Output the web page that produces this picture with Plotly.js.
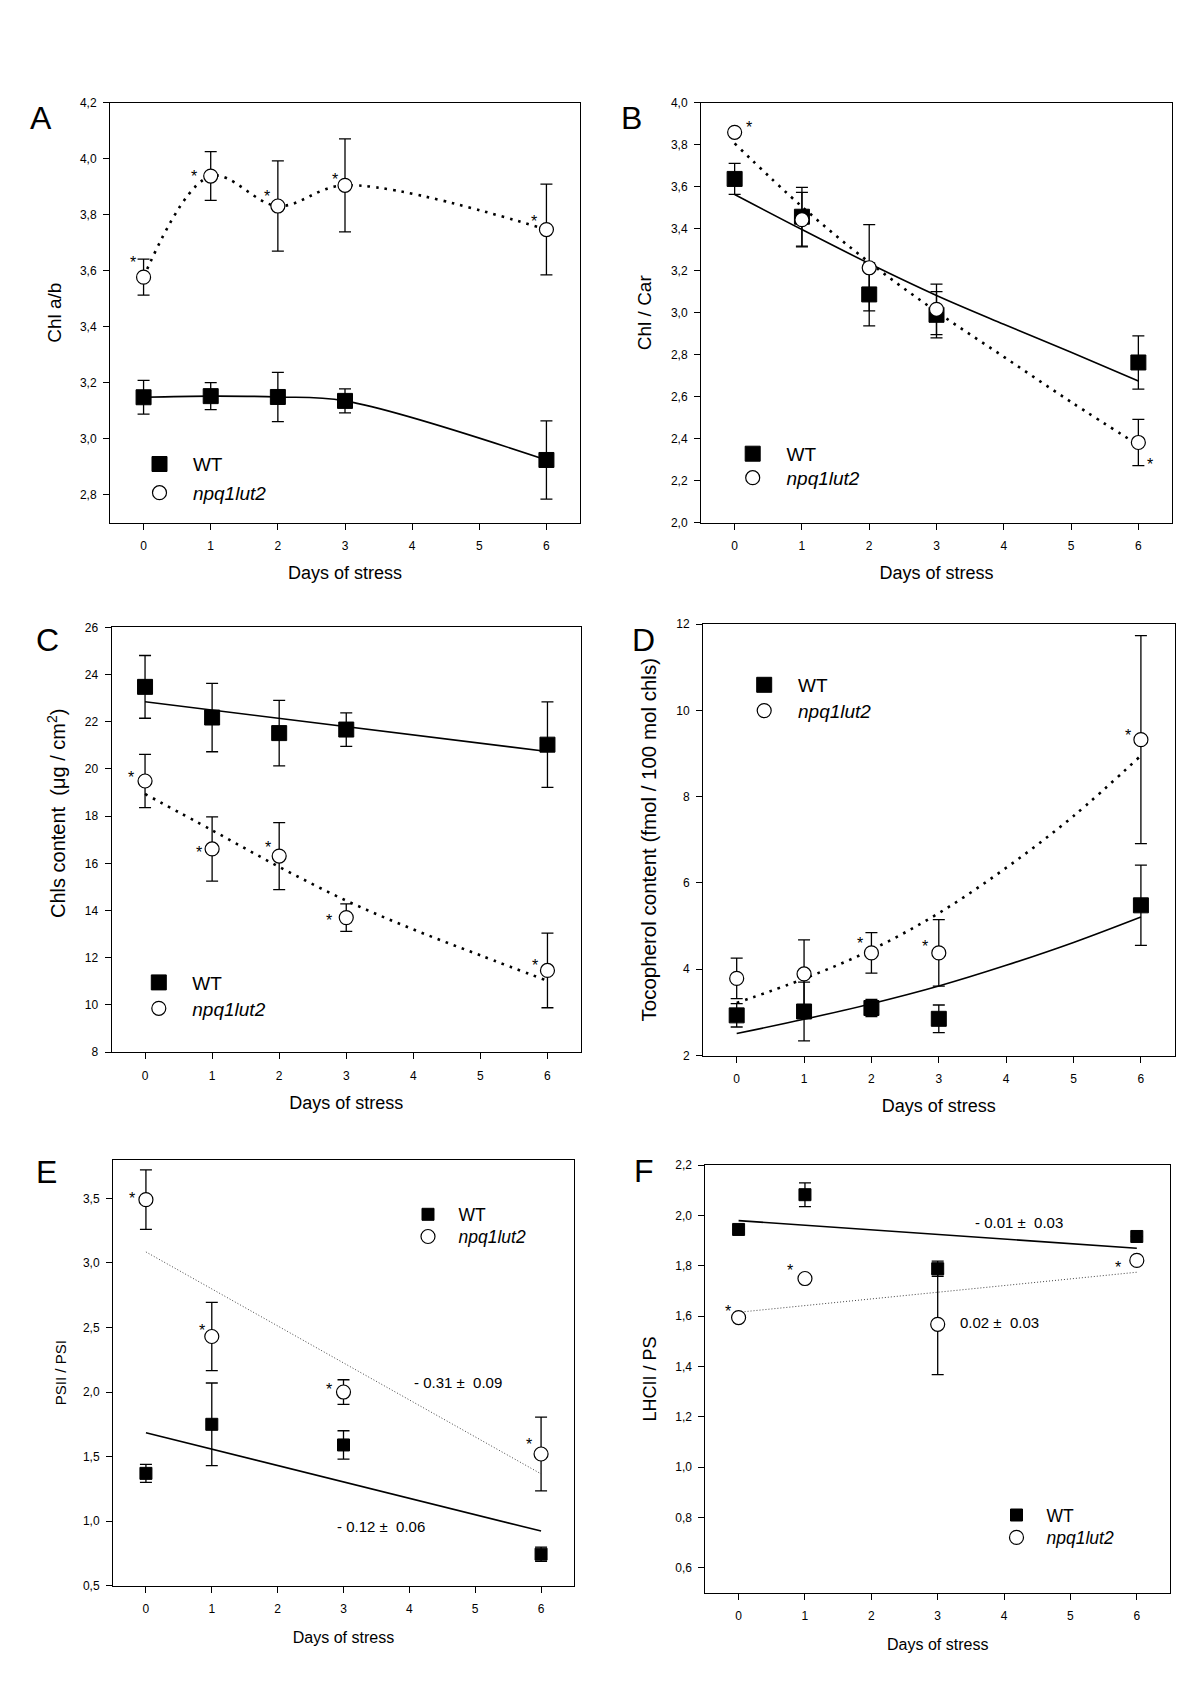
<!DOCTYPE html>
<html>
<head>
<meta charset="utf-8">
<script src="https://cdn.plot.ly/plotly-3.0.1.min.js"></script>
<style>
  html, body { margin: 0; padding: 0; background: #fff; }
  #chart { width: 1200px; height: 1697px; }
</style>
</head>
<body>
<div id="chart"></div>
<script>
// ---------------- DATA ----------------
const days = [0, 1, 2, 3, 6];
const daysEF = [0, 1, 3, 6];
const fitDays = [0, 1, 2, 3, 4, 5, 6];
const lineDays = [0, 6];
const xTickVals = [0, 1, 2, 3, 4, 5, 6];

// A - Chl a/b
const chlAB_WT = [3.148, 3.152, 3.149, 3.135, 2.924];
const chlAB_WT_err = [0.060, 0.048, 0.088, 0.043, 0.140];
const chlAB_mut = [3.577, 3.938, 3.831, 3.905, 3.747];
const chlAB_mut_err = [0.064, 0.087, 0.161, 0.166, 0.162];

// B - Chl / Car
const chlCar_WT = [3.637, 3.457, 3.087, 2.990, 2.763];
const chlCar_WT_err = [0.074, 0.140, 0.150, 0.110, 0.127];
const chlCar_mut = [3.859, 3.443, 3.214, 3.016, 2.382];
const chlCar_mut_err = [0.015, 0.130, 0.205, 0.120, 0.110];
const chlCar_WT_fit = [3.563, 3.396, 3.234, 3.082, 2.945, 2.812, 2.675];
const chlCar_mut_fit = [3.806, 3.505, 3.240, 3.005, 2.790, 2.575, 2.370];

// C - Chls content (ug/cm2)
const chls_WT = [23.48, 22.18, 21.52, 21.67, 21.03];
const chls_WT_err = [1.33, 1.45, 1.39, 0.71, 1.81];
const chls_mut = [19.49, 16.61, 16.31, 13.70, 11.46];
const chls_mut_err = [1.13, 1.36, 1.42, 0.58, 1.58];
const chls_WT_fit = [22.85, 20.74];
const chls_mut_fit = [18.94, 17.40, 15.85, 14.42, 13.20, 12.10, 11.02];

// D - Tocopherol content
const toco_WT = [2.93, 3.02, 3.10, 2.85, 5.48];
const toco_WT_err = [0.27, 0.68, 0.20, 0.32, 0.93];
const toco_mut = [3.787, 3.89, 4.378, 4.378, 9.32];
const toco_mut_err = [0.47, 0.79, 0.47, 0.77, 2.41];
const toco_WT_fit = [2.51, 2.84, 3.20, 3.61, 4.09, 4.62, 5.21];
const toco_mut_fit = [3.22, 3.78, 4.45, 5.30, 6.35, 7.55, 8.95];

// E - PSII / PSI
const psRatio_WT = [1.37, 1.75, 1.59, 0.744];
const psRatio_WT_err = [0.07, 0.32, 0.11, 0.055];
const psRatio_mut = [3.49, 2.43, 2.00, 1.52];
const psRatio_mut_err = [0.23, 0.265, 0.095, 0.285];
const psRatio_WT_fit = [1.684, 0.923];
const psRatio_mut_fit = [3.085, 1.366];
const psRatio_WT_slope = '- 0.12 \u00b1\u00a0 0.06';
const psRatio_mut_slope = '- 0.31 \u00b1\u00a0 0.09';

// F - LHCII / PS
const lhc_WT = [1.944, 2.082, 1.788, 1.916];
const lhc_WT_err = [0.0, 0.047, 0.03, 0.0];
const lhc_mut = [1.594, 1.749, 1.567, 1.821];
const lhc_mut_err = [0.0, 0.0, 0.20, 0.0];
const lhc_WT_fit = [1.979, 1.869];
const lhc_mut_fit = [1.615, 1.774];
const lhc_WT_slope = '- 0.01 \u00b1\u00a0 0.03';
const lhc_mut_slope = '0.02 \u00b1\u00a0 0.03';

const seriesNames = ['WT', '<i>npq1lut2</i>'];

// ---------------- STYLE / LAYOUT ----------------
const W = 1200, H = 1697;
const FONT = 'Liberation Sans, Arial, sans-serif';
const heavyDot = { color: '#000', width: 2.6, dash: '2.6px,6px' };
const thinDot = { color: '#444', width: 1, dash: '1px,2px' };
const solid = { color: '#000', width: 1.6 };

// legend: marker centre (px) for WT row and mutant row, font size, gap marker->text
const panels = [
  { letter: 'A', box: [110, 580, 102.7, 522.7], yrange: [2.7, 4.2], tick0: 2.8, dtick: 0.2, fmt: '.1f',
    ytitle: 'Chl a/b', ytsize: 19, ystand: 13, xtsize: 18, xstand: 14,
    x: days, wt: chlAB_WT, wtErr: chlAB_WT_err, mut: chlAB_mut, mutErr: chlAB_mut_err,
    wtLine: [days, chlAB_WT, 'spline', solid], mutLine: [days, chlAB_mut, 'spline', heavyDot],
    sq: 15, circ: 14,
    stars: [[0, -11, 19], [1, -17, 4], [2, -11, 14], [3, -10, 10], [4, -12, 12]],
    legend: { mx: 159.5, my: [463, 491.7], size: 19, gap: 33.4 }, letterPos: [41, 118] },
  { letter: 'B', box: [701, 1172, 102.7, 522.7], yrange: [2.0, 4.0], tick0: 2.0, dtick: 0.2, fmt: '.1f',
    ytitle: 'Chl / Car', ytsize: 19, ystand: 14, xtsize: 18, xstand: 14,
    x: days, wt: chlCar_WT, wtErr: chlCar_WT_err, mut: chlCar_mut, mutErr: chlCar_mut_err,
    wtLine: [fitDays, chlCar_WT_fit, 'spline', solid], mutLine: [fitDays, chlCar_mut_fit, 'spline', heavyDot],
    sq: 15, circ: 14,
    stars: [[0, 14, 9], [4, 12, -18]],
    legend: { mx: 752.7, my: [452.7, 476.7], size: 19, gap: 33.8 }, letterPos: [631, 118] },
  { letter: 'C', box: [111.5, 581, 627.4, 1052.1], yrange: [8, 26], tick0: 8, dtick: 2, fmt: 'd',
    ytitle: '', ytsize: 20, ystand: 18, xtsize: 18, xstand: 14,
    ytitleAnn: { text: 'Chls content \u00a0(\u03bcg / cm<sup>2</sup>)', x: 56, y: 814, size: 20 },
    x: days, wt: chls_WT, wtErr: chls_WT_err, mut: chls_mut, mutErr: chls_mut_err,
    wtLine: [lineDays, chls_WT_fit, 'linear', solid], mutLine: [fitDays, chls_mut_fit, 'spline', heavyDot],
    sq: 15, circ: 14,
    stars: [[0, -14, 8], [1, -13, 0], [2, -11, 13], [3, -17, 1], [4, -12, 9]],
    legend: { mx: 158.8, my: [981.4, 1007.3], size: 19, gap: 33.5 }, letterPos: [47, 640] },
  { letter: 'D', box: [703, 1174.6, 624, 1055.5], yrange: [2, 12], tick0: 2, dtick: 2, fmt: 'd',
    ytitle: 'Tocopherol content (fmol / 100 mol chls)', ytsize: 20.5, ystand: 14, xtsize: 18, xstand: 14,
    x: days, wt: toco_WT, wtErr: toco_WT_err, mut: toco_mut, mutErr: toco_mut_err,
    wtLine: [fitDays, toco_WT_fit, 'spline', solid], mutLine: [fitDays, toco_mut_fit, 'spline', heavyDot],
    sq: 15, circ: 14,
    stars: [[2, -11, 13], [3, -14, 10], [4, -13, 8]],
    legend: { mx: 764.2, my: [683.8, 709.6], size: 19, gap: 33.8 }, letterPos: [643, 640] },
  { letter: 'E', box: [113, 574, 1159.6, 1585.7], yrange: [0.5, 3.8], tick0: 0.5, dtick: 0.5, fmt: '.1f',
    ytitle: 'PSII / PSI', ytsize: 15, ystand: 12, xtsize: 16, xstand: 16,
    x: daysEF, wt: psRatio_WT, wtErr: psRatio_WT_err, mut: psRatio_mut, mutErr: psRatio_mut_err,
    wtLine: [lineDays, psRatio_WT_fit, 'linear', solid], mutLine: [lineDays, psRatio_mut_fit, 'linear', thinDot],
    sq: 12, circ: 14,
    stars: [[0, -14, 5], [1, -10, 10], [2, -15, 7], [3, -12, 14]],
    slopes: [[psRatio_mut_slope, 4.74, 2.07], [psRatio_WT_slope, 3.57, 0.956]],
    legend: { mx: 428, my: [1213.3, 1235.5], size: 17.5, gap: 30.5 }, letterPos: [46, 1172] },
  { letter: 'F', box: [705.4, 1170, 1165, 1592.9], yrange: [0.5, 2.2], tick0: 0.6, dtick: 0.2, fmt: '.1f',
    ytitle: 'LHCII / PS', ytsize: 18, ystand: 14, xtsize: 16, xstand: 16,
    x: daysEF, wt: lhc_WT, wtErr: lhc_WT_err, mut: lhc_mut, mutErr: lhc_mut_err,
    wtLine: [lineDays, lhc_WT_fit, 'linear', solid], mutLine: [lineDays, lhc_mut_fit, 'linear', thinDot],
    sq: 12, circ: 14,
    stars: [[0, -11, 10], [1, -15, 12], [3, -19, -3]],
    slopes: [[lhc_WT_slope, 4.23, 1.973], [lhc_mut_slope, 3.93, 1.575]],
    legend: { mx: 1016.5, my: [1514, 1536.4], size: 17.5, gap: 30 }, letterPos: [644, 1171] }
];

const traces = [];
const annotations = [];
const layout = {
  width: W, height: H,
  margin: { l: 0, r: 0, t: 0, b: 0 },
  paper_bgcolor: '#fff', plot_bgcolor: '#fff',
  separators: ', ',
  font: { family: FONT, color: '#000' },
  showlegend: true,
  annotations: annotations
};

let legendCount = 0;
function makeLegend(p, row) {
  legendCount += 1;
  const key = legendCount === 1 ? 'legend' : 'legend' + legendCount;
  const iw = Math.max(30, 2 * (p.legend.gap - 5));
  const sym = 5 + iw / 2;
  const half = (p.legend.size * 1.3 + 3) / 2;
  layout[key] = {
    x: (p.legend.mx - sym) / W, y: 1 - (p.legend.my[row] - half - 4) / H,
    xanchor: 'left', yanchor: 'top', xref: 'paper', yref: 'paper',
    bgcolor: 'rgba(0,0,0,0)', borderwidth: 0, itemwidth: iw,
    font: { family: FONT, size: p.legend.size, color: '#000' },
    itemclick: false, itemdoubleclick: false
  };
  return key;
}

panels.forEach((p, i) => {
  const n = i + 1;
  const xk = n === 1 ? 'xaxis' : 'xaxis' + n;
  const yk = n === 1 ? 'yaxis' : 'yaxis' + n;
  const xr = n === 1 ? 'x' : 'x' + n;
  const yr = n === 1 ? 'y' : 'y' + n;
  const [l, r, t, b] = p.box;
  const common = {
    showline: true, linecolor: '#000', linewidth: 1, mirror: true,
    ticks: 'outside', ticklen: 6, tickwidth: 1, tickcolor: '#000',
    showgrid: false, zeroline: false, automargin: false,
    tickfont: { family: FONT, size: 12, color: '#000' }
  };
  layout[xk] = Object.assign({}, common, {
    domain: [l / W, r / W], anchor: yr, range: [-0.5, 6.5],
    tickmode: 'array', tickvals: xTickVals, ticktext: xTickVals.map(String),
    ticklabelstandoff: 6,
    title: { text: 'Days of stress', font: { family: FONT, size: p.xtsize, color: '#000' }, standoff: p.xstand }
  });
  const yax = Object.assign({}, common, {
    domain: [1 - b / H, 1 - t / H], anchor: xr, range: p.yrange,
    tickmode: 'linear', tick0: p.tick0, dtick: p.dtick, tickformat: p.fmt,
    ticklabelstandoff: 4
  });
  if (p.ytitle) {
    yax.title = { text: p.ytitle, font: { family: FONT, size: p.ytsize, color: '#000' }, standoff: p.ystand };
  }
  layout[yk] = yax;
  if (p.ytitleAnn) {
    annotations.push({ xref: 'paper', yref: 'paper', x: p.ytitleAnn.x / W, y: 1 - p.ytitleAnn.y / H,
      text: p.ytitleAnn.text, textangle: -90, showarrow: false, xanchor: 'center', yanchor: 'middle',
      font: { family: FONT, size: p.ytitleAnn.size, color: '#000' } });
  }

  // fitted / connecting lines
  traces.push({ type: 'scatter', mode: 'lines', x: p.wtLine[0], y: p.wtLine[1], xaxis: xr, yaxis: yr,
    line: Object.assign({ shape: p.wtLine[2], smoothing: 1 }, p.wtLine[3]), showlegend: false, hoverinfo: 'skip' });
  traces.push({ type: 'scatter', mode: 'lines', x: p.mutLine[0], y: p.mutLine[1], xaxis: xr, yaxis: yr,
    line: Object.assign({ shape: p.mutLine[2], smoothing: 1 }, p.mutLine[3]), showlegend: false, hoverinfo: 'skip' });

  const eb = (arr) => ({ type: 'data', array: arr, visible: true, color: '#000', thickness: 1.3, width: 6 });
  traces.push({ type: 'scatter', mode: 'markers', name: seriesNames[0], x: p.x, y: p.wt, xaxis: xr, yaxis: yr,
    legend: makeLegend(p, 0), error_y: eb(p.wtErr),
    marker: { symbol: 'square', size: p.sq, color: '#000', line: { color: '#000', width: 1 } } });
  traces.push({ type: 'scatter', mode: 'markers', name: seriesNames[1], x: p.x, y: p.mut, xaxis: xr, yaxis: yr,
    legend: makeLegend(p, 1), error_y: eb(p.mutErr),
    marker: { symbol: 'circle', size: p.circ, color: '#fff', line: { color: '#000', width: 1.2 } } });

  // significance asterisks on the mutant points
  p.stars.forEach(([k, dx, dy]) => {
    annotations.push({ xref: xr, yref: yr, x: p.x[k], y: p.mut[k], text: '*', showarrow: false,
      xshift: dx, yshift: dy - 4, font: { family: FONT, size: 16, color: '#000' } });
  });
  // regression slopes
  (p.slopes || []).forEach(([txt, sx, sy]) => {
    annotations.push({ xref: xr, yref: yr, x: sx, y: sy, text: txt, showarrow: false,
      font: { family: FONT, size: 15, color: '#000' } });
  });
  // panel letter
  annotations.push({ xref: 'paper', yref: 'paper', x: p.letterPos[0] / W, y: 1 - p.letterPos[1] / H,
    text: p.letter, showarrow: false, xanchor: 'center', yanchor: 'middle',
    font: { family: FONT, size: 32, color: '#000' } });
});

Plotly.newPlot('chart', traces, layout, { staticPlot: true, displayModeBar: false });
</script>
</body>
</html>
